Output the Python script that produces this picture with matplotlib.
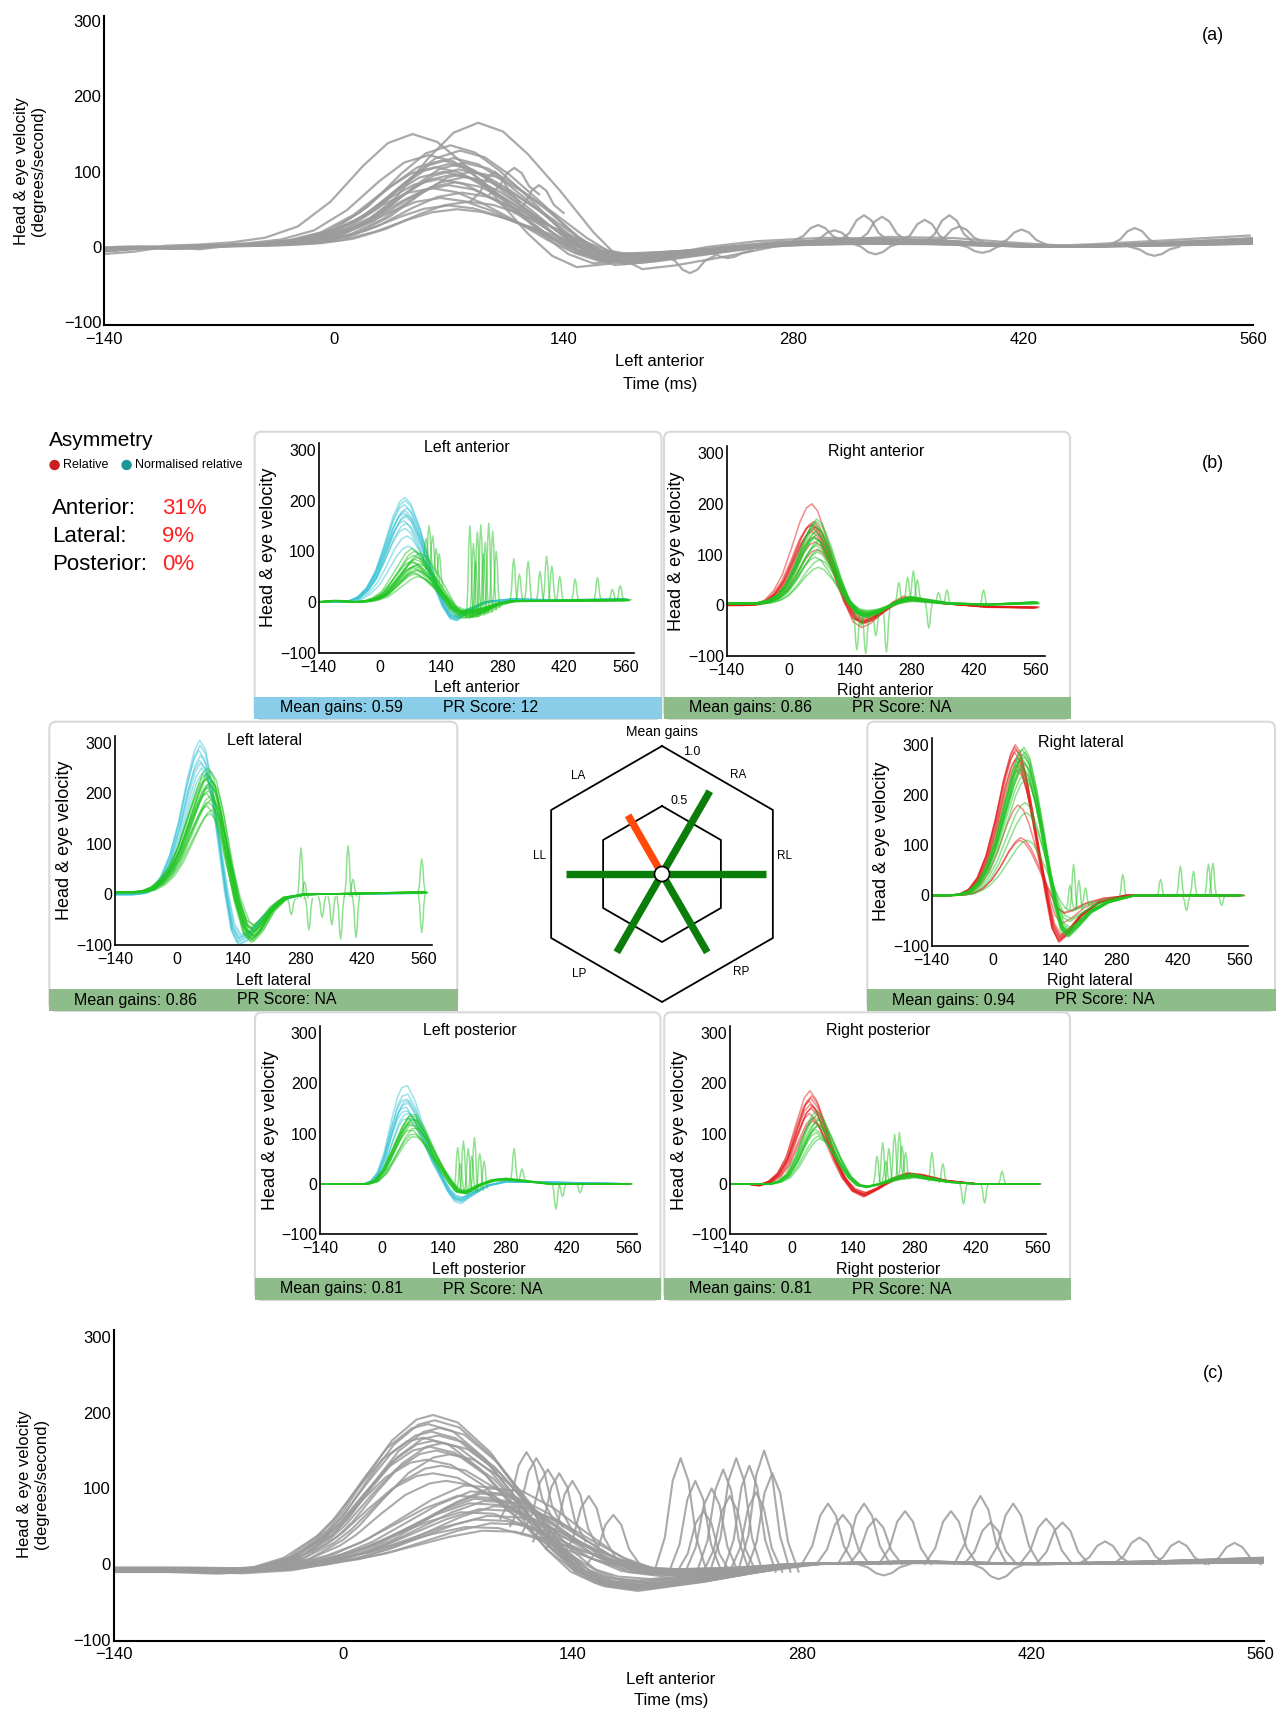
import numpy as np
import matplotlib
matplotlib.use('Agg')
import matplotlib.pyplot as plt
from matplotlib.patches import FancyBboxPatch, Rectangle, Circle
from matplotlib.transforms import IdentityTransform

plt.rcParams['font.family'] = ['Liberation Sans', 'DejaVu Sans']

W, H = 1277, 1711

# ---- (a) all impulses, left anterior (gray) ----
# each trial = mean shape (in % of its peak) scaled to the peak
a_t = [-160, -140, -120, -100, -80, -60, -40, -20, 0, 20, 40, 55, 70, 85, 100, 120, 140, 155, 170, 190, 220, 250, 280, 320, 360, 400, 440, 480, 520, 580]
a_v = [-6, -4, 0, -2, 1, 2, 4, 8, 18, 40, 72, 92, 100, 93, 75, 45, 12, -8, -18, -15, -8, 0, 5, 8, 7, 3, 0, 2, 5, 10]
a_peaks = [50, 55, 60, 65, 72, 78, 82, 86, 90, 93, 96, 100, 100, 103, 106, 110, 112, 115, 118, 122, 128, 135, 150, 165]
a_lags = [5, 0, 12, -5, 8, -10, 0, 4, -6, 10, 2, -3, 14, 6, -8, 0, 9, -4, 3, -12, 7, 1, -22, 18]
# (time, level it rises from, peak) of the small saccade bumps
a_spikes = [(110, 70, 105), (125, 45, 82), (98, 60, 100), (295, 8, 29), (323, 8, 42), (334, 8, 40),
            (360, 6, 36), (375, 6, 42), (381, 6, 27), (419, 3, 23), (488, 3, 25), (305, 6, 22),
            (217, -12, -35), (240, -5, -15), (330, 5, -10), (500, 0, -12), (395, 3, -8)]

# ---- (c) all impulses, left anterior (gray) ----
c_hi_t = [-160, -140, -100, -70, -50, -30, -10, 0, 15, 30, 45, 55, 70, 90, 110, 130, 145, 160, 180, 220, 280, 350, 420, 500, 580]
c_hi_v = [-5, -5, -5, -6, -3, 5, 22, 35, 60, 83, 97, 100, 95, 75, 45, 12, -6, -15, -18, -12, 0, 2, 0, 2, 5]
c_hi_peaks = [110, 120, 130, 138, 145, 150, 155, 160, 163, 167, 170, 175, 180, 185, 190, 197]
c_hi_lags = [8, 0, 5, -4, 10, 2, -2, 6, 0, -6, 3, -1, 4, -3, 1, 0]
c_lo_t = [-160, -140, -100, -70, -40, -20, 0, 20, 40, 60, 80, 100, 120, 140, 160, 180, 200, 240, 280, 350, 420, 500, 580]
c_lo_v = [-10, -10, -10, -12, -8, 0, 12, 30, 55, 80, 98, 95, 72, 40, 10, -10, -15, -10, 0, 3, 0, 2, 5]
c_lo_peaks = [45, 50, 55, 60, 65, 70, 74, 78, 82, 85, 88, 92, 95, 98, 102, 106]
c_lo_lags = [5, -5, 10, 0, 8, -8, 3, 12, -3, 6, 0, -10, 4, -2, 9, -6]
c_spikes = [(112, 60, 148), (118, 50, 140), (125, 40, 125), (132, 30, 120), (140, 20, 110),
            (150, 10, 90), (165, 0, 65), (206, -10, 140), (215, -10, 110), (225, -10, 100),
            (232, -10, 125), (240, -10, 140), (248, -10, 130), (257, -10, 150), (262, -10, 120),
            (220, -10, 70), (236, -10, 90), (252, -10, 95),
            (296, 0, 80), (305, 0, 65), (318, 0, 80), (325, 0, 60), (343, 0, 70), (371, 0, 70),
            (389, 0, 90), (395, 0, 55), (409, 0, 80), (429, 0, 60), (439, 0, 55), (465, 0, 30),
            (486, 0, 35), (510, 0, 30), (544, 0, 28), (330, 0, -15), (400, 0, -20)]

# ---- (b) six canal panels: head trace (cyan/red) + eye trace (green) ----
la_head_t = [-155, -140, -100, -70, -50, -30, -10, 10, 30, 45, 57, 70, 90, 110, 130, 145, 160, 175, 200, 240, 300, 400, 560]
la_head_v = [0, 0, 0, 1, 5, 14, 30, 55, 82, 96, 100, 94, 72, 42, 14, -5, -16, -18, -10, 0, 3, 2, 3]
la_head_peaks = [110, 130, 145, 155, 160, 168, 172, 175, 180, 185, 192, 200, 206]
la_head_lags = [8, 5, 0, 3, -3, 2, 4, -2, 0, 4, -1, 1, 0]
la_eye_t = [-155, -140, -100, -60, -30, -10, 10, 30, 50, 65, 78, 90, 105, 125, 145, 165, 185, 210, 240, 270, 300, 400, 560]
la_eye_v = [0, 0, 3, 0, 2, 8, 20, 45, 72, 92, 100, 95, 78, 50, 18, -15, -30, -30, -20, -5, 2, 3, 5]
la_eye_peaks = [50, 55, 58, 62, 64, 68, 70, 73, 75, 78, 80, 84, 88, 92, 96, 100, 105]
la_eye_lags = [8, 0, -4, 6, 4, -6, 0, 3, 10, -2, -8, 2, 6, -2, 12, 0, -6]
la_spikes = [(105, 75, 125), (112, 65, 150), (120, 55, 130), (128, 40, 105), (135, 30, 95),
             (205, -30, 150), (213, -30, 115), (222, -25, 138), (230, -25, 152), (240, -20, 118),
             (248, -20, 155), (257, -15, 140), (265, -10, 100), (218, -28, 80), (236, -22, 95),
             (305, 2, 85), (318, 2, 55), (338, 2, 80), (365, 2, 60), (380, 2, 90), (392, 2, 70),
             (410, 2, 50), (445, 2, 45), (496, 3, 48), (530, 3, 25), (548, 3, 32)]

ra_head_t = [-155, -140, -100, -75, -50, -30, -10, 10, 30, 45, 57, 70, 90, 110, 130, 150, 170, 190, 215, 240, 265, 300, 360, 450, 560]
ra_head_v = [0, 0, 0, 1, 5, 14, 30, 55, 82, 96, 100, 93, 68, 35, 5, -16, -22, -18, -8, 3, 9, 7, 2, -2, -3]
ra_head_peaks = [110, 125, 135, 145, 150, 155, 158, 160, 165, 200]
ra_head_lags = [8, 4, 2, -3, 0, 4, -5, -2, 1, -4]
ra_eye_t = [-155, -140, -100, -70, -45, -25, -5, 15, 35, 50, 62, 75, 95, 115, 135, 155, 175, 200, 225, 250, 275, 300, 360, 450, 560]
ra_eye_v = [3, 3, 3, 3, 6, 12, 25, 48, 76, 93, 100, 94, 68, 35, 6, -10, -14, -10, -2, 6, 10, 8, 3, 1, 4]
ra_eye_peaks = [75, 90, 95, 105, 110, 118, 122, 128, 132, 135, 140, 145, 150, 155, 160, 165, 170]
ra_eye_lags = [5, 8, -2, 3, 6, 0, 4, 6, -3, -4, 2, -1, 4, 0, -3, 1, 2]
ra_spikes = [(155, -15, -88), (175, -20, -95), (198, -15, -60), (222, -5, -92), (250, 5, 45),
             (270, 10, 55), (283, 10, 68), (292, 10, 50), (318, 5, -45), (340, 5, 25),
             (359, 2, 30), (442, 0, 30), (165, -20, -40)]

ll_head_t = [-155, -140, -100, -75, -55, -35, -15, 5, 25, 40, 52, 65, 80, 95, 110, 125, 140, 160, 190, 230, 280, 560]
ll_head_v = [0, 0, 0, 1, 4, 12, 26, 48, 76, 93, 100, 94, 72, 38, 3, -24, -33, -30, -18, -5, 0, 1]
ll_head_peaks = [240, 250, 260, 265, 275, 285, 295, 305]
ll_head_lags = [6, 4, 2, 0, 2, -2, 1, 0]
ll_eye_t = [-155, -140, -100, -75, -55, -35, -15, 5, 25, 45, 60, 72, 85, 100, 115, 135, 155, 170, 190, 215, 245, 290, 560]
ll_eye_v = [2, 2, 2, 3, 6, 12, 22, 38, 60, 82, 96, 100, 92, 68, 35, -5, -32, -38, -30, -14, -3, 0, 2]
ll_eye_peaks = [160, 168, 175, 182, 188, 195, 200, 205, 212, 216, 220, 225, 228, 232, 235, 240, 245, 250]
ll_eye_lags = [4, 10, -3, 2, 7, 6, -4, 0, -2, 5, 3, 8, -5, 2, 1, -3, 5, -1]
ll_spikes = [(282, -8, 92), (300, -8, -70), (330, -5, -45), (352, -5, -60), (372, -4, -88),
             (389, -4, 96), (400, -3, 30), (407, -3, -85), (556, 3, 70), (556, 3, -75),
             (260, -10, -40), (290, -6, 25)]

rl_head_t = [-155, -140, -100, -75, -55, -35, -15, 5, 25, 40, 50, 62, 75, 90, 105, 120, 135, 150, 170, 200, 240, 300, 560]
rl_head_v = [0, 0, 0, 1, 4, 12, 27, 50, 78, 94, 100, 95, 80, 55, 28, 2, -22, -31, -26, -14, -5, 0, 0]
rl_head_peaks = [110, 115, 180, 250, 260, 270, 275, 285, 290, 295, 300]
rl_head_lags = [10, 12, 6, 4, 2, 0, 3, -2, 1, -1, 0]
rl_eye_t = [-155, -140, -100, -75, -55, -35, -15, 5, 25, 45, 58, 68, 80, 95, 110, 125, 140, 155, 170, 190, 220, 260, 320, 560]
rl_eye_v = [0, 0, 0, 1, 3, 9, 20, 38, 62, 86, 97, 100, 94, 74, 48, 20, -6, -24, -28, -22, -12, -5, 0, 0]
rl_eye_peaks = [110, 165, 185, 230, 240, 250, 255, 262, 265, 272, 276, 280, 285, 290, 295]
rl_eye_lags = [10, 8, 5, 6, 3, 1, 0, 4, 2, -2, 3, 1, 4, -1, 2]
rl_spikes = [(183, -25, 62), (195, -28, 30), (210, -20, 15), (230, -12, -30), (295, -5, 42),
             (381, -2, 32), (426, 0, 58), (440, -2, -30), (456, 0, 48), (490, 0, 62),
             (500, 0, 64), (520, 0, -20), (175, -25, 20)]

lp_head_t = [-155, -140, -60, -40, -25, -10, 5, 20, 35, 45, 58, 75, 95, 115, 135, 150, 165, 180, 205, 240, 280, 560]
lp_head_v = [0, 0, 0, 0, 3, 12, 32, 62, 88, 98, 100, 85, 58, 30, 8, -8, -18, -20, -12, -2, 3, 0]
lp_head_peaks = [130, 140, 145, 152, 160, 165, 168, 178, 195]
lp_head_lags = [3, 5, 0, -2, 2, 4, -1, 1, 0]
lp_eye_t = [-155, -140, -60, -35, -15, 5, 25, 45, 60, 75, 95, 115, 135, 155, 170, 190, 220, 250, 280, 320, 380, 560]
lp_eye_v = [0, 0, 0, 0, 5, 22, 52, 82, 98, 98, 78, 50, 24, 2, -12, -14, -2, 6, 8, 5, 0, 0]
lp_eye_peaks = [95, 100, 108, 112, 118, 120, 124, 128, 130, 132, 136, 140]
lp_eye_lags = [6, 4, -3, 8, 2, -4, 0, 5, 3, -2, 1, 3]
lp_spikes = [(172, -10, 72), (185, -12, 85), (196, -15, 70), (210, -15, 92), (222, -12, 60),
             (232, -8, 45), (300, 6, 70), (318, 6, 30), (395, 0, -50), (410, 0, -25), (450, 0, -18),
             (178, -12, 40), (204, -15, 55)]

rp_head_t = [-155, -140, -100, -75, -50, -30, -10, 10, 30, 43, 58, 78, 98, 118, 140, 165, 195, 230, 265, 300, 350, 420, 560]
rp_head_v = [0, 0, 0, -2, 3, 12, 30, 62, 92, 100, 90, 62, 32, 8, -8, -14, -6, 6, 12, 10, 4, 0, 0]
rp_head_peaks = [125, 130, 140, 150, 155, 158, 165, 170, 175, 185]
rp_head_lags = [6, 4, -2, 2, 5, 0, -3, 1, 3, -1]
rp_eye_t = [-155, -140, -80, -50, -30, -10, 10, 30, 45, 56, 70, 90, 110, 130, 150, 170, 200, 240, 275, 310, 360, 420, 560]
rp_eye_v = [0, 0, 0, 0, 4, 14, 38, 72, 93, 100, 92, 65, 36, 12, -2, -5, 0, 10, 14, 9, 3, 0, 0]
rp_eye_peaks = [90, 95, 102, 108, 115, 118, 122, 128, 133, 138, 145]
rp_eye_lags = [8, 5, 0, -2, 3, 6, 0, 6, -3, 2, 1]
rp_spikes = [(195, 0, 55), (208, 4, 82), (222, 6, 70), (235, 8, 98), (246, 10, 102),
             (260, 10, 62), (320, 6, 62), (345, 3, 40), (392, 0, -40), (440, 0, -38), (480, 0, 25),
             (215, 5, 45), (252, 10, 75)]

canal_names = ['Left anterior', 'Right anterior', 'Left lateral', 'Right lateral', 'Left posterior', 'Right posterior']
canal_gains = [0.59, 0.86, 0.86, 0.94, 0.81, 0.81]
canal_pr = ['12', 'NA', 'NA', 'NA', 'NA', 'NA']

hex_labels = ['RL', 'RA', 'LA', 'LL', 'LP', 'RP']
hex_gains = [0.94, 0.86, 0.59, 0.86, 0.81, 0.81]
hex_rings = [0.5, 1.0]

asym_labels = ['Anterior:', 'Lateral:', 'Posterior:']
asym_values = ['31%', '9%', '0%']

time_ticks = [-140, 0, 140, 280, 420, 560]
vel_ticks = [-100, 0, 100, 200, 300]

GRAY = '#9b9b9b'
GREEN = '#1fc41f'
CYAN = '#3cc4d6'
RED = '#e41a1a'

SPIKE_T = np.array([-1, -0.6, -0.3, 0, 0.3, 0.6, 1])
SPIKE_V = np.array([0, 0.3, 0.8, 1, 0.8, 0.3, 0])


def add_ax(left, top, right, bottom):
    return fig.add_axes([left / W, 1 - bottom / H, (right - left) / W, (bottom - top) / H])


def plot_trials(ax, t, v, peaks, lags, color, lw=1.1, alpha=0.5):
    t = np.array(t, dtype=float)
    shape = np.array(v, dtype=float) / 100
    for peak, lag in zip(peaks, lags):
        ax.plot(t + lag, shape * peak, color=color, lw=lw, alpha=alpha)


def plot_spikes(ax, spikes, color, half, lw=1.1, alpha=0.5):
    for t0, base, top in spikes:
        ax.plot(t0 + half * SPIKE_T, base + (top - base) * SPIKE_V, color=color, lw=lw, alpha=alpha)


def style_axes(ax, xlim, ylim, size, lw):
    for s in ['top', 'right']:
        ax.spines[s].set_visible(False)
    for s in ['left', 'bottom']:
        ax.spines[s].set_linewidth(lw)
    ax.set_facecolor('none')
    ax.set_xlim(*xlim)
    ax.set_ylim(*ylim)
    ax.set_xticks(time_ticks)
    ax.set_yticks(vel_ticks)
    ax.tick_params(length=0, labelsize=size)
    ax.tick_params(axis='x', pad=5)
    ax.tick_params(axis='y', pad=2)


def px_text(x, y, s, **kw):
    fig.text(x / W, 1 - y / H, s, **kw)


fig = plt.figure(figsize=(W / 100, H / 100), dpi=100)

# ---- panel (a) ----
ax = add_ax(104, 16, 1253, 325)
plot_trials(ax, a_t, a_v, a_peaks, a_lags, GRAY, lw=1.6, alpha=0.85)
plot_spikes(ax, a_spikes, GRAY, 15, lw=1.6, alpha=0.85)
style_axes(ax, (-140, 560), (-104, 307), 12, 1.5)
px_text(30, 171, 'Head & eye velocity\n(degrees/second)', rotation=90, ha='center', va='center', fontsize=12)
px_text(660, 361, 'Left anterior', ha='center', va='center', fontsize=12)
px_text(660, 384, 'Time (ms)', ha='center', va='center', fontsize=12)
px_text(1213, 36, '(a)', ha='center', va='center', fontsize=13)

# ---- panel (b) ----
px_text(1213, 463, '(b)', ha='center', va='center', fontsize=13)
px_text(49, 441, 'Asymmetry', ha='left', va='center', fontsize=15)
fig.add_artist(Circle((54.6, H - 465), 4.5, color='#c81e1e', transform=IdentityTransform()))
px_text(63, 465, 'Relative', ha='left', va='center', fontsize=9)
fig.add_artist(Circle((126.6, H - 465), 4.5, color='#1a9896', transform=IdentityTransform()))
px_text(135, 465, 'Normalised relative', ha='left', va='center', fontsize=9)
for i, (lab, val) in enumerate(zip(asym_labels, asym_values)):
    y = 509 + 28 * i
    px_text(52, y, lab, ha='left', va='center', fontsize=16)
    px_text(162, y, val, ha='left', va='center', fontsize=16, color='#ff2020')

boxes = [(254.6, 431.7, 661.5, 719), (664, 431.7, 1070, 719),
         (49.3, 721.7, 457.3, 1011), (867.3, 721.7, 1275, 1011),
         (255, 1012.3, 660.5, 1300), (664.2, 1012.3, 1070, 1300)]
axes_px = [(318.6, 442.7, 634.3, 652.7), (726.6, 446, 1044.5, 656),
           (115, 735.7, 432.3, 945), (931.7, 737.7, 1248, 945.7),
           (320.3, 1025.7, 637.4, 1234.3), (730, 1025.7, 1046, 1234.3)]
bar_colors = ['#89cde9', '#8fbc8b', '#8fbc8b', '#8fbc8b', '#8fbc8b', '#8fbc8b']
canal_data = [
    (la_head_t, la_head_v, la_head_peaks, la_head_lags, CYAN, la_eye_t, la_eye_v, la_eye_peaks, la_eye_lags, la_spikes),
    (ra_head_t, ra_head_v, ra_head_peaks, ra_head_lags, RED, ra_eye_t, ra_eye_v, ra_eye_peaks, ra_eye_lags, ra_spikes),
    (ll_head_t, ll_head_v, ll_head_peaks, ll_head_lags, CYAN, ll_eye_t, ll_eye_v, ll_eye_peaks, ll_eye_lags, ll_spikes),
    (rl_head_t, rl_head_v, rl_head_peaks, rl_head_lags, RED, rl_eye_t, rl_eye_v, rl_eye_peaks, rl_eye_lags, rl_spikes),
    (lp_head_t, lp_head_v, lp_head_peaks, lp_head_lags, CYAN, lp_eye_t, lp_eye_v, lp_eye_peaks, lp_eye_lags, lp_spikes),
    (rp_head_t, rp_head_v, rp_head_peaks, rp_head_lags, RED, rp_eye_t, rp_eye_v, rp_eye_peaks, rp_eye_lags, rp_spikes),
]

for i, name in enumerate(canal_names):
    x0, y0, x1, y1 = boxes[i]
    box = FancyBboxPatch((x0, H - y1), x1 - x0, y1 - y0, boxstyle='round,pad=0,rounding_size=7',
                         fc='white', ec='#d9d9d9', lw=1.5, transform=IdentityTransform(), zorder=-2)
    fig.add_artist(box)
    bar = Rectangle((x0 - 0.5, H - y1), x1 - x0 + 1, 22, fc=bar_colors[i], ec='none',
                    transform=IdentityTransform(), zorder=-1)
    fig.add_artist(bar)
    px_text(x0 + 25, y1 - 11, f'Mean gains: {canal_gains[i]:.2f}', ha='left', va='center', fontsize=11.5)
    px_text(x0 + 188, y1 - 11, f'PR Score: {canal_pr[i]}', ha='left', va='center', fontsize=11.5)

    ht, hv, hp, hl, hc, et, ev, ep, el, sp = canal_data[i]
    ax = add_ax(*axes_px[i])
    plot_trials(ax, ht, hv, hp, hl, hc)
    plot_trials(ax, et, ev, ep, el, GREEN)
    plot_spikes(ax, sp, GREEN, 8)
    style_axes(ax, (-140, 580), (-100, 314), 11.5, 1.2)
    ax.set_ylabel('Head & eye velocity', fontsize=13, labelpad=2)
    ax.set_xlabel(name, fontsize=11.5, labelpad=4)
    ax.text(0.47, 0.975, name, transform=ax.transAxes, ha='center', va='center', fontsize=11.5)

# mean gains hexagon (drawn in pixel units around its centre)
hx = add_ax(460, 722, 865, 1010)
hx.set_xlim(-202, 203)
hx.set_ylim(-136, 152)
hx.axis('off')
ring_px = {0.5: 68, 1.0: 128}
ang = np.deg2rad(90 + 60 * np.arange(7))
for level in hex_rings:
    hx.plot(ring_px[level] * np.cos(ang), ring_px[level] * np.sin(ang), color='black', lw=1.3)
for k, (lab, g) in enumerate(zip(hex_labels, hex_gains)):
    a = np.deg2rad(60 * k)
    r = 7 + g * 103
    col = '#ff4a0a' if lab == 'LA' else '#0b7d0b'
    hx.plot([0, r * np.cos(a)], [0, r * np.sin(a)], color=col, lw=5.3, solid_capstyle='butt')
hx.add_patch(Circle((0, 0), 7.5, fc='white', ec='black', lw=1.2, zorder=5))
label_pos = {'LA': (-84, 98), 'RA': (76, 99), 'RL': (123, 18), 'LL': (-123, 18),
             'LP': (-83, -100), 'RP': (79, -98)}
for lab in hex_labels:
    hx.text(*label_pos[lab], lab, ha='center', va='center', fontsize=8.5)
hx.text(0, 142, 'Mean gains', ha='center', va='center', fontsize=10)
hx.text(30, 122, '1.0', ha='center', va='center', fontsize=9)
hx.text(17, 73, '0.5', ha='center', va='center', fontsize=9)

# ---- panel (c) ----
ax = add_ax(113.5, 1329.5, 1264, 1640.5)
plot_trials(ax, c_hi_t, c_hi_v, c_hi_peaks, c_hi_lags, GRAY, lw=1.5, alpha=0.85)
plot_trials(ax, c_lo_t, c_lo_v, c_lo_peaks, c_lo_lags, GRAY, lw=1.5, alpha=0.85)
plot_spikes(ax, c_spikes, GRAY, 16, lw=1.5, alpha=0.85)
style_axes(ax, (-140, 562), (-101, 310), 12, 1.5)
px_text(33, 1484, 'Head & eye velocity\n(degrees/second)', rotation=90, ha='center', va='center', fontsize=12)
px_text(671, 1679, 'Left anterior', ha='center', va='center', fontsize=12)
px_text(671, 1701, 'Time (ms)', ha='center', va='center', fontsize=12)
px_text(1213, 1373, '(c)', ha='center', va='center', fontsize=13)

fig.savefig('out.png', dpi=100)
